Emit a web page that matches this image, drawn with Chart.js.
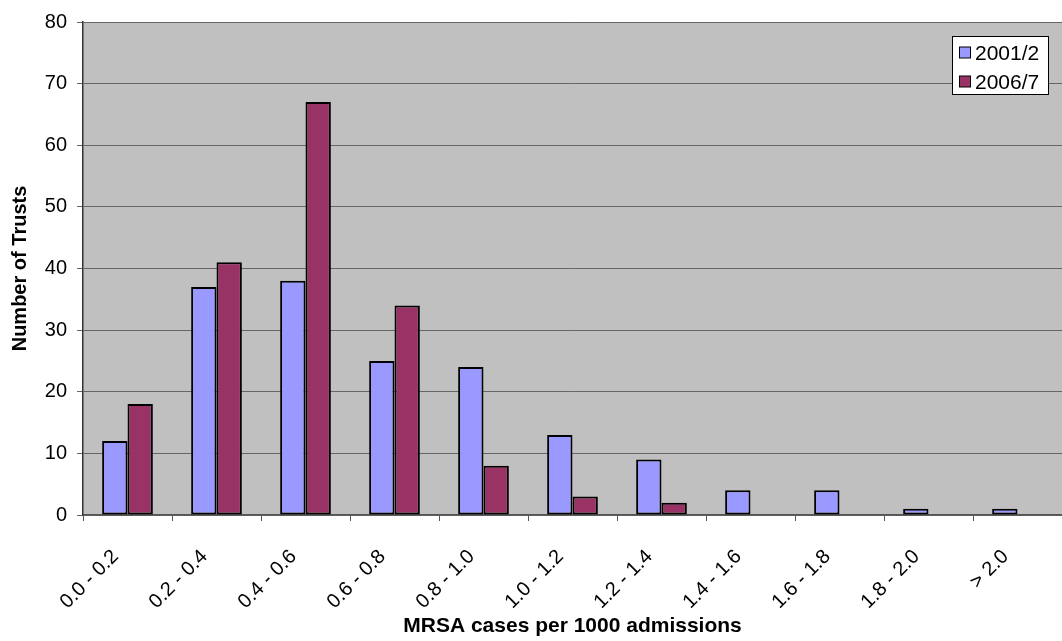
<!DOCTYPE html>
<html>
<head>
<meta charset="utf-8">
<script src="https://cdn.jsdelivr.net/npm/chart.js@4/dist/chart.umd.min.js"></script>
<style>
  html, body { margin: 0; padding: 0; background: #ffffff; }
  #wrap { width: 1062px; height: 641px; }
</style>
</head>
<body>
<div id="wrap"><canvas id="c" width="1062" height="641"></canvas></div>
<script>
// MRSA rate bands (cases per 1000 admissions)
const categories = ['0.0 - 0.2', '0.2 - 0.4', '0.4 - 0.6', '0.6 - 0.8', '0.8 - 1.0',
  '1.0 - 1.2', '1.2 - 1.4', '1.4 - 1.6', '1.6 - 1.8', '1.8 - 2.0', '> 2.0'];

// Number of trusts in each band
const trusts2001 = [12, 37, 38, 25, 24, 13, 9, 4, 4, 1, 1];
const trusts2006 = [18, 41, 67, 34, 8, 3, 2, 0, 0, 0, 0];

const seriesLabels = ['2001/2', '2006/7'];
const yTicks = [0, 10, 20, 30, 40, 50, 60, 70, 80];

const FONT = '"Liberation Sans", Arial, sans-serif';

// grey plot background
const plotBackground = {
  id: 'plotBackground',
  beforeDraw(chart) {
    const { ctx, chartArea: a } = chart;
    ctx.save();
    ctx.fillStyle = '#c0c0c0';
    ctx.fillRect(a.left, a.top, a.right - a.left, a.bottom - a.top);
    ctx.restore();
  }
};

// boxed legend in the top-right of the plot
const boxedLegend = {
  id: 'boxedLegend',
  afterDatasetsDraw(chart) {
    const { ctx } = chart;
    const x = 952.5, y = 36.5, w = 96, h = 58;
    ctx.save();
    ctx.fillStyle = '#ffffff';
    ctx.fillRect(x, y, w, h);
    ctx.strokeStyle = '#000000';
    ctx.lineWidth = 1;
    ctx.strokeRect(x, y, w, h);
    ctx.font = '21px ' + FONT;
    ctx.textBaseline = 'middle';
    ctx.textAlign = 'left';
    chart.data.datasets.forEach((ds, i) => {
      const cy = 53 + i * 29;
      ctx.fillStyle = ds.backgroundColor;
      ctx.fillRect(959.5, cy - 6, 11, 11);
      ctx.strokeStyle = '#000000';
      ctx.strokeRect(959.5, cy - 6, 11, 11);
      ctx.fillStyle = '#000000';
      ctx.fillText(ds.label, 975, cy + 1);
    });
    ctx.restore();
  }
};

new Chart(document.getElementById('c'), {
  type: 'bar',
  data: {
    labels: categories,
    datasets: [
      { label: seriesLabels[0], data: trusts2001, backgroundColor: '#9999ff',
        borderColor: '#000000', borderWidth: 2, borderSkipped: false },
      { label: seriesLabels[1], data: trusts2006, backgroundColor: '#993366',
        borderColor: '#000000', borderWidth: 2, borderSkipped: false }
    ]
  },
  options: {
    responsive: false,
    animation: false,
    devicePixelRatio: 1,
    layout: { padding: { top: 19, right: 0, bottom: 0, left: 0 } },
    datasets: { bar: { categoryPercentage: 0.57, barPercentage: 1.0 } },
    plugins: {
      legend: { display: false },
      tooltip: { enabled: false }
    },
    scales: {
      x: {
        offset: true,
        grid: { offset: true, drawOnChartArea: false, drawTicks: true, tickLength: 6, color: '#555555' },
        border: { display: true, color: '#555555', width: 1.5 },
        ticks: {
          color: '#000000', font: { family: FONT, size: 20 },
          maxRotation: 45, minRotation: 45, padding: 24, labelOffset: -12, autoSkip: false
        },
        title: {
          display: true, text: 'MRSA cases per 1000 admissions', color: '#000000',
          font: { family: FONT, size: 21, weight: 'bold' },
          padding: { top: 0, bottom: 2 }
        },
        afterFit(scale) { scale.height = 126; }
      },
      y: {
        min: 0, max: 80,
        afterBuildTicks(scale) { scale.ticks = yTicks.map(v => ({ value: v })); },
        grid: { color: '#666666', lineWidth: 1, tickLength: 6, drawTicks: true },
        border: { display: true, color: '#333333', width: 1.5 },
        ticks: { color: '#000000', font: { family: FONT, size: 20 }, padding: 10 },
        title: {
          display: true, text: 'Number of Trusts', color: '#000000',
          font: { family: FONT, size: 20, weight: 'bold' },
          padding: { top: 8, bottom: 0 }
        },
        afterFit(scale) { scale.width = 83; }
      }
    }
  },
  plugins: [plotBackground, boxedLegend]
});
</script>
</body>
</html>
